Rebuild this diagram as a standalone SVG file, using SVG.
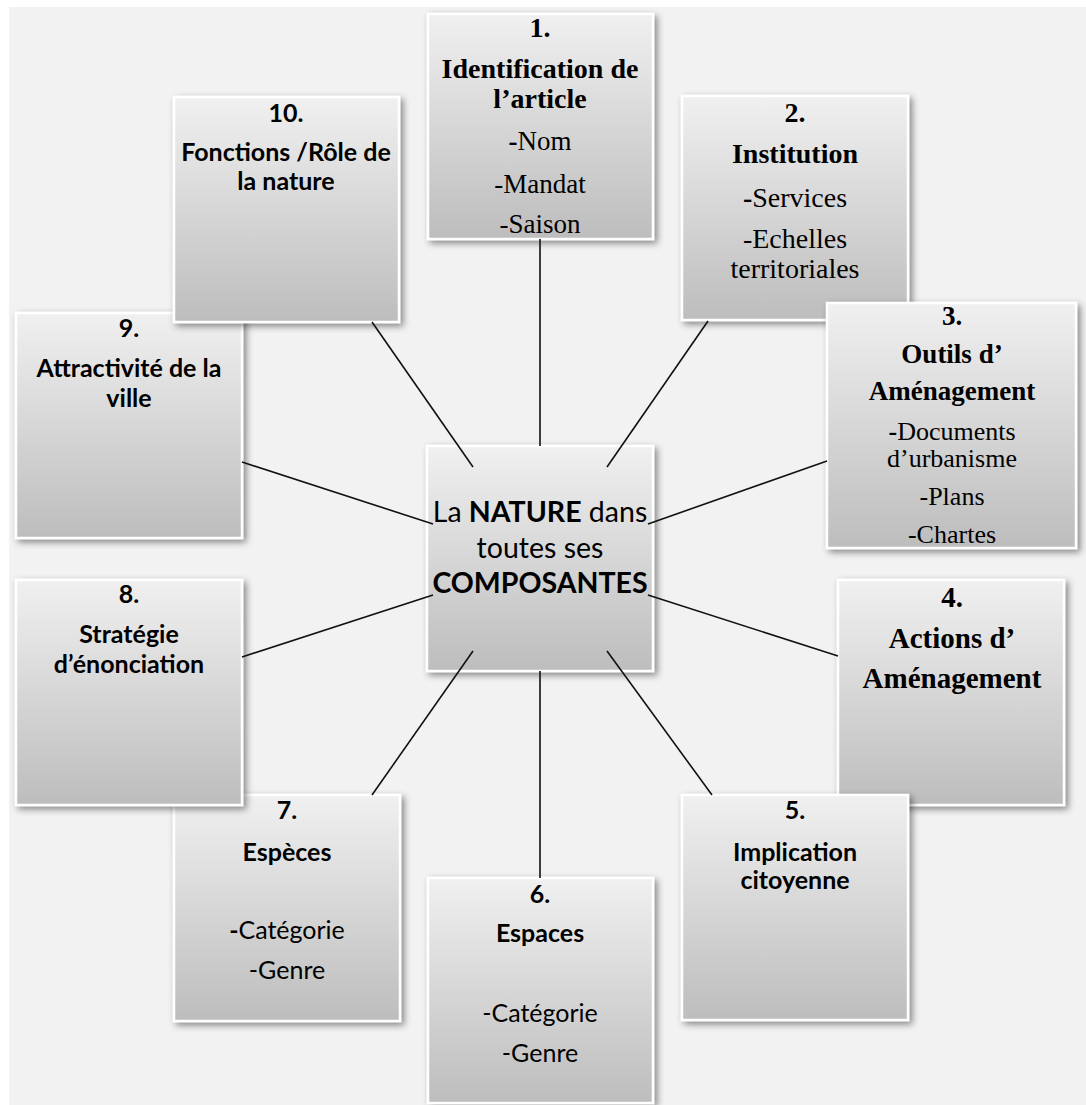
<svg xmlns="http://www.w3.org/2000/svg" width="1086" height="1105" viewBox="0 0 1086 1105">
<style>
.box{fill:url(#g);stroke:#ffffff;stroke-width:2.5;filter:url(#sh)}
.s{font-family:"Liberation Serif","Times New Roman",serif;text-anchor:middle;fill:#000}
.sb{font-weight:bold}
.c{font-family:Lato,"Liberation Sans",sans-serif;text-anchor:middle;fill:#000}
.conn line{stroke:#111;stroke-width:1.6}
</style>
<defs>
<linearGradient id="g" x1="0" y1="0" x2="0" y2="1">
<stop offset="0" stop-color="#f0f0f0"/>
<stop offset="1" stop-color="#bdbdbd"/>
</linearGradient>
<filter id="sh" x="-10%" y="-10%" width="125%" height="125%">
<feDropShadow dx="3" dy="3" stdDeviation="3.5" flood-color="#000" flood-opacity="0.45"/>
</filter>
</defs>
<rect x="0" y="0" width="1086" height="1105" fill="#ffffff"/>
<rect x="9" y="7" width="1077" height="1098" fill="#f2f2f2"/>

<g id="center">
<rect class="box" x="427" y="446" width="226" height="225"/>
<text class="c" x="540" y="522" font-size="28.5">La <tspan font-weight="bold">NATURE</tspan> dans</text>
<text class="c" x="540" y="558" font-size="28.5">toutes ses</text>
<text class="c" x="540" y="593" font-size="28.5" font-weight="bold">COMPOSANTES</text>
</g>

<g id="n1">
<rect class="box" x="428" y="14" width="225" height="225"/>
<text class="s sb" x="540" y="37" font-size="28">1.</text>
<text class="s sb" x="540" y="78" font-size="28">Identification de</text>
<text class="s sb" x="540" y="108" font-size="28">l’article</text>
<text class="s" x="540" y="150" font-size="27"><tspan font-weight="bold">-</tspan>Nom</text>
<text class="s" x="540" y="193" font-size="27">-Mandat</text>
<text class="s" x="540" y="233" font-size="27">-Saison</text>
</g>

<g id="n2">
<rect class="box" x="682" y="96" width="226" height="224"/>
<text class="s sb" x="795" y="122" font-size="28">2.</text>
<text class="s sb" x="795" y="163" font-size="28">Institution</text>
<text class="s" x="795" y="207" font-size="28"><tspan font-weight="bold">-</tspan>Services</text>
<text class="s" x="795" y="248" font-size="28">-Echelles</text>
<text class="s" x="795" y="278" font-size="28">territoriales</text>
</g>

<g id="n3">
<rect class="box" x="827" y="303" width="249" height="245"/>
<text class="s sb" x="952" y="325" font-size="27">3.</text>
<text class="s sb" x="952" y="363" font-size="27">Outils d’</text>
<text class="s sb" x="952" y="400" font-size="27">Aménagement</text>
<text class="s" x="952" y="440" font-size="26"><tspan font-weight="bold">-</tspan>Documents</text>
<text class="s" x="952" y="467" font-size="26">d’urbanisme</text>
<text class="s" x="952" y="505" font-size="26">-Plans</text>
<text class="s" x="952" y="543" font-size="26">-Chartes</text>
</g>

<g id="n4">
<rect class="box" x="838" y="580" width="226" height="225"/>
<text class="s sb" x="952" y="607" font-size="29">4.</text>
<text class="s sb" x="952" y="648" font-size="29">Actions d’</text>
<text class="s sb" x="952" y="688" font-size="29">Aménagement</text>
</g>

<g id="n5">
<rect class="box" x="682" y="795" width="226" height="225"/>
<text class="c" x="795" y="819" font-size="25" font-weight="bold">5.</text>
<text class="c" x="795" y="861" font-size="25" font-weight="bold">Implication</text>
<text class="c" x="795" y="889" font-size="25" font-weight="bold">citoyenne</text>
</g>

<g id="n6">
<rect class="box" x="428" y="878" width="225" height="225"/>
<text class="c" x="540" y="903" font-size="25" font-weight="bold">6.</text>
<text class="c" x="540" y="942" font-size="25" font-weight="bold">Espaces</text>
<text class="c" x="540" y="1022" font-size="25">-Catégorie</text>
<text class="c" x="540" y="1062" font-size="25">-Genre</text>
</g>

<g id="n7">
<rect class="box" x="174" y="795" width="226" height="226"/>
<text class="c" x="287" y="819" font-size="25" font-weight="bold">7.</text>
<text class="c" x="287" y="861" font-size="25" font-weight="bold">Espèces</text>
<text class="c" x="287" y="939" font-size="25"><tspan font-weight="bold">-</tspan>Catégorie</text>
<text class="c" x="287" y="979" font-size="25">-Genre</text>
</g>

<g id="n8">
<rect class="box" x="16" y="580" width="226" height="225"/>
<text class="c" x="129" y="603" font-size="25" font-weight="bold">8.</text>
<text class="c" x="129" y="643" font-size="25" font-weight="bold">Stratégie</text>
<text class="c" x="129" y="673" font-size="25" font-weight="bold">d’énonciation</text>
</g>

<g id="n9">
<rect class="box" x="16" y="313" width="226" height="225"/>
<text class="c" x="129" y="337" font-size="25" font-weight="bold">9.</text>
<text class="c" x="129" y="377" font-size="25" font-weight="bold">Attractivité de la</text>
<text class="c" x="129" y="407" font-size="25" font-weight="bold">ville</text>
</g>

<g id="n10">
<rect class="box" x="174" y="97" width="225" height="225"/>
<text class="c" x="286" y="122" font-size="25" font-weight="bold">10.</text>
<text class="c" x="286" y="161" font-size="25" font-weight="bold">Fonctions /Rôle de</text>
<text class="c" x="286" y="190" font-size="25" font-weight="bold">la nature</text>
</g>

<g id="connectors" class="conn">
<line x1="540" y1="446" x2="540" y2="239"/>
<line x1="607" y1="467" x2="708" y2="321"/>
<line x1="648" y1="524" x2="827" y2="461"/>
<line x1="648" y1="595" x2="838" y2="656"/>
<line x1="607" y1="651" x2="712" y2="795"/>
<line x1="540" y1="671" x2="540" y2="878"/>
<line x1="473" y1="651" x2="372" y2="795"/>
<line x1="433" y1="595" x2="242" y2="657"/>
<line x1="433" y1="524" x2="242" y2="462"/>
<line x1="473" y1="467" x2="372" y2="322"/>
</g>
</svg>
